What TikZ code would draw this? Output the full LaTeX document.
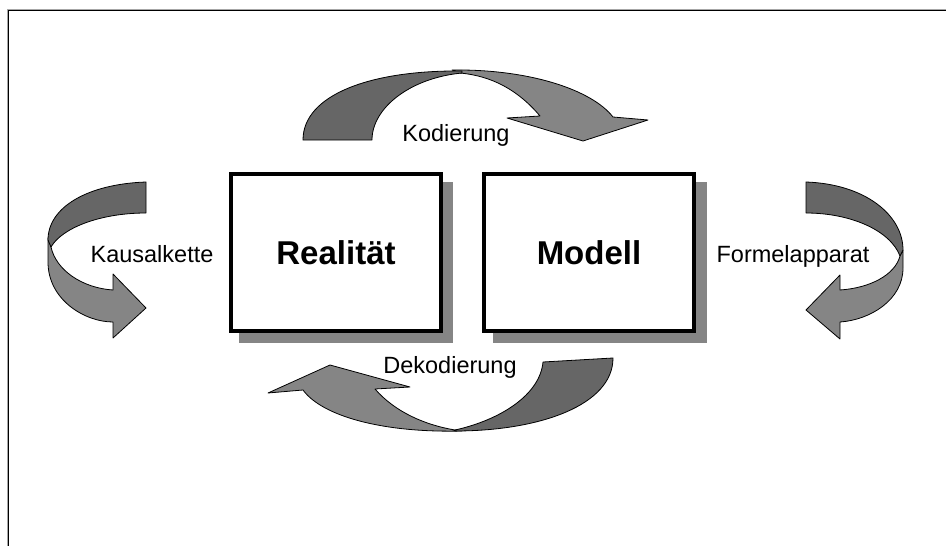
\documentclass[tikz,border=0pt]{standalone}
\usepackage{fontspec}
\setmainfont{Liberation Sans}
\begin{document}
\begin{tikzpicture}[x=1pt,y=-1pt,
  darkpart/.style={fill=darkgrey,draw=black,line width=0.8pt,line join=round},
  lightpart/.style={fill=lightgrey,draw=black,line width=0.8pt,line join=round},
  mainbox/.style={draw=black,line width=3.5pt,fill=white,minimum width=210pt,minimum height=157pt,inner sep=0pt,font=\fontsize{33}{38}\selectfont\bfseries},
  shadowbox/.style={fill=lightgrey,minimum width=214pt,minimum height=161pt,inner sep=0pt},
  lbl/.style={font=\fontsize{23.5}{27}\selectfont,inner sep=0pt}]
\definecolor{darkgrey}{HTML}{666666}
\definecolor{lightgrey}{HTML}{858585}
\useasboundingbox (0,0) rectangle (946,546);
\fill[white] (0,0) rectangle (946,546);
% frame
\draw[gray!70,line width=1pt] (7,546) -- (7,9) -- (946,9);
\draw[black,line width=1.5pt] (8.5,546) -- (8.5,10.5) -- (946,10.5);
% shadows and boxes
\node[shadowbox] (rs) at (346,262) {};
\node[shadowbox] (ms) at (600,262) {};
\node[mainbox] (real) at (336,252.5) {Realität};
\node[mainbox] (mod) at (589,252.5) {Modell};
% top arrow (Kodierung)
\draw[lightpart] (452,70) .. controls (530,69) and (592,90) .. (613,117)
  -- (648,120) -- (583,141) -- (507,118) -- (540,116)
  .. controls (518,90) and (492,76) .. (460,73) -- cycle;
\draw[darkpart] (303,140) .. controls (303,95) and (370,70) .. (462,71)
  -- (462,73) .. controls (410,78) and (372,108) .. (372,140) -- cycle;
% bottom arrow (Dekodierung)
\draw[lightpart] (462,431) .. controls (382,433) and (322,416) .. (303,390)
  -- (268,393) -- (330,365) -- (410,387) -- (375,389)
  .. controls (395,412) and (425,425) .. (455,430) -- cycle;
\draw[darkpart] (543,362) -- (613,358) .. controls (613,405) and (540,431) .. (455,431)
  -- (455,430) .. controls (500,420) and (540,395) .. (543,362) -- cycle;
% left arrow (Kausalkette)
\draw[lightpart] (48,238) -- (48,262) .. controls (48,300) and (85,322) .. (113,322)
  -- (113,338) -- (146,308) -- (113,274) -- (113,290)
  .. controls (82,288) and (56,270) .. (51,247) -- cycle;
\draw[darkpart] (146,182) .. controls (88,184) and (48,207) .. (48,240)
  -- (51,247) .. controls (62,228) and (100,213) .. (146,213) -- cycle;
% right arrow (Formelapparat)
\draw[lightpart] (903,250) -- (903,268) .. controls (903,300) and (870,320) .. (840,322)
  -- (840,339) -- (806,310) -- (840,275) -- (840,290)
  .. controls (870,288) and (895,275) .. (900,256) -- cycle;
\draw[darkpart] (806,182) .. controls (865,184) and (903,215) .. (903,250)
  -- (900,256) .. controls (890,230) and (850,213) .. (806,213) -- cycle;
% labels
\node[lbl,anchor=base] (kod) at (456,141) {Kodierung};
\node[lbl,anchor=base] (dekod) at (450,373) {Dekodierung};
\node[lbl,anchor=base] (kaus) at (152,262) {Kausalkette};
\node[lbl,anchor=base] (form) at (793,262) {Formelapparat};
\end{tikzpicture}
\end{document}
